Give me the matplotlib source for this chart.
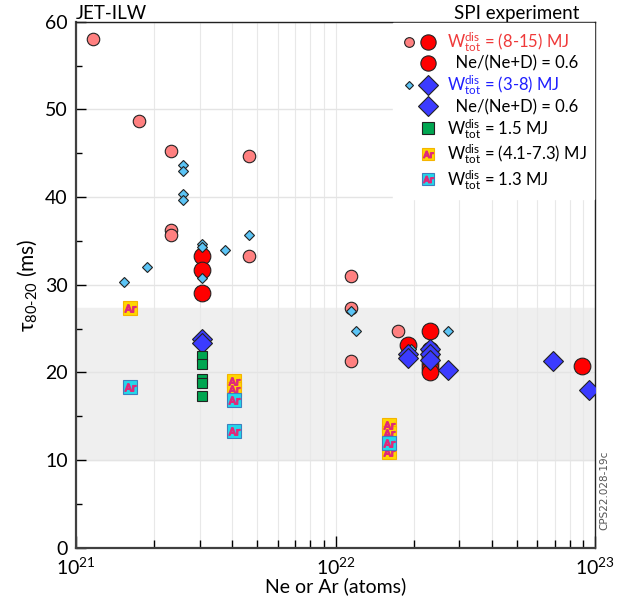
import numpy as np
import matplotlib
matplotlib.use('Agg')
import matplotlib.pyplot as plt
from matplotlib.lines import Line2D
from matplotlib.legend_handler import HandlerTuple
from matplotlib.ticker import MultipleLocator, LogLocator

plt.rcParams['font.family'] = ['Lato', 'DejaVu Sans']
plt.rcParams['mathtext.fontset'] = 'custom'
plt.rcParams['mathtext.rm'] = 'Lato'
plt.rcParams['mathtext.sf'] = 'DejaVu Sans'

# W_tot^dis = (8-15) MJ, small pink circles
pink_x = [1.16e21, 1.74e21, 2.32e21, 4.64e21, 2.32e21, 2.32e21, 4.64e21, 1.15e22, 1.15e22, 1.15e22, 1.74e22]
pink_y = [58.0, 48.7, 45.3, 44.7, 36.3, 35.7, 33.3, 31.0, 27.3, 21.3, 24.7]

# (8-15) MJ, Ne/(Ne+D) = 0.6, big red circles
red_x = [3.05e21, 3.05e21, 3.05e21, 1.91e22, 2.31e22, 2.31e22, 2.31e22, 2.31e22, 2.31e22, 2.31e22, 8.9e22]
red_y = [33.3, 31.7, 29.1, 23.1, 24.7, 22.6, 21.8, 21.0, 20.5, 20.1, 20.7]

# W_tot^dis = (3-8) MJ, small light blue diamonds
lblue_x = [1.53e21, 1.87e21, 2.58e21, 2.58e21, 2.58e21, 2.58e21, 3.05e21, 3.05e21, 3.05e21,
           3.74e21, 4.64e21, 1.15e22, 1.20e22, 1.96e22, 2.72e22]
lblue_y = [30.3, 32.0, 43.7, 43.0, 40.3, 39.7, 34.7, 34.3, 30.8, 34.0, 35.7, 27.0, 24.7, 22.7, 24.7]

# (3-8) MJ, Ne/(Ne+D) = 0.6, big blue diamonds
blue_x = [3.05e21, 3.05e21, 1.91e22, 1.91e22, 2.31e22, 2.31e22, 2.31e22, 2.72e22, 6.9e22, 9.5e22]
blue_y = [23.8, 23.3, 22.1, 21.7, 22.7, 22.1, 21.4, 20.3, 21.3, 18.0]

# W_tot^dis = 1.5 MJ, green squares
green_x = [3.05e21, 3.05e21, 3.05e21, 3.05e21, 3.05e21]
green_y = [21.9, 21.0, 19.2, 18.8, 17.3]

# Ar, (4.1-7.3) MJ
ary_x = [1.62e21, 4.05e21, 4.05e21, 1.61e22, 1.61e22, 1.61e22]
ary_y = [27.3, 19.0, 18.1, 14.0, 13.1, 10.9]

# Ar, 1.3 MJ
arc_x = [1.62e21, 4.05e21, 4.05e21, 1.61e22]
arc_y = [18.3, 16.9, 13.3, 11.9]

PINK, RED = '#ff8080', '#ff0000'
LBLUE, BLUE = '#5bc4f5', '#3b3bff'
GREEN = '#00a651'
YEL, YEL_E = '#ffd700', '#f5b400'
CYAN, CYAN_E = '#22d8ea', '#3f7fbf'
AR_TXT = '#e0287a'
AR = r'$\mathsf{Ar}$'

fig = plt.figure(figsize=(6.29, 6.02), dpi=100)
ax = fig.add_axes([0.121, 0.09, 0.825, 0.874])

ax.axhspan(10, 27.4, color='#efefef', zorder=0)
ax.grid(True, which='both', axis='x', color='#e8e8e8', lw=0.8, zorder=0.5)
ax.grid(True, which='major', axis='y', color='#e4e4e4', lw=1.0, zorder=0.5)
ax.set_axisbelow(True)

ax.plot(pink_x, pink_y, ls='', marker='o', ms=9, mfc=PINK, mec='#222222', mew=0.8, zorder=3)
ax.plot(red_x, red_y, ls='', marker='o', ms=12, mfc=RED, mec='#222222', mew=0.8, zorder=4)
ax.plot(lblue_x, lblue_y, ls='', marker='D', ms=5.5, mfc=LBLUE, mec='#222222', mew=0.8, zorder=5)
ax.plot(blue_x, blue_y, ls='', marker='D', ms=10, mfc=BLUE, mec='#222222', mew=0.8, zorder=6)
ax.plot(green_x, green_y, ls='', marker='s', ms=7, mfc=GREEN, mec='#222222', mew=0.8, zorder=6)
ax.plot(ary_x, ary_y, ls='', marker='s', ms=10, mfc=YEL, mec=YEL_E, mew=0.8, zorder=7)
ax.plot(ary_x, ary_y, ls='', marker=AR, ms=8, color=AR_TXT, zorder=7.1)
ax.plot(arc_x, arc_y, ls='', marker='s', ms=10, mfc=CYAN, mec=CYAN_E, mew=0.8, zorder=8)
ax.plot(arc_x, arc_y, ls='', marker=AR, ms=8, color=AR_TXT, zorder=8.1)

ax.set_xscale('log')
ax.set_xlim(1e21, 1e23)
ax.set_ylim(0, 60)
ax.yaxis.set_major_locator(MultipleLocator(10))
ax.yaxis.set_minor_locator(MultipleLocator(5))
ax.xaxis.set_minor_locator(LogLocator(base=10, subs=np.arange(2, 10)))
ax.tick_params(axis='both', which='major', direction='in', length=7, width=1, labelsize=14, pad=6)
ax.tick_params(axis='both', which='minor', direction='in', length=4, width=1)
ax.tick_params(axis='x', which='major', length=9)
ax.tick_params(axis='x', which='minor', length=6)
for s in ['left', 'bottom']:
    ax.spines[s].set_linewidth(1.6)
    ax.spines[s].set_color('#404040')
for s in ['top', 'right']:
    ax.spines[s].set_linewidth(1.0)
    ax.spines[s].set_color('#202020')

ax.set_xlabel('Ne or Ar (atoms)', fontsize=14, labelpad=0)
ax.set_ylabel(r'$\mathregular{\tau_{80\text{-}20}}$ (ms)', fontsize=15, labelpad=4)
ax.text(0.0, 1.006, 'JET-ILW', transform=ax.transAxes, fontsize=13.5, ha='left', va='baseline')
ax.text(0.97, 1.006, 'SPI experiment', transform=ax.transAxes, fontsize=13.5, ha='right', va='baseline')
fig.text(0.961, 0.186, 'CPS22.028-19c', rotation=90, fontsize=7.5, color='#555555',
         family='DejaVu Sans', ha='center', va='center')

# legend
blank = Line2D([], [], ls='', marker='')
h_pink = Line2D([], [], ls='', marker='o', ms=7, mfc=PINK, mec='#222222', mew=0.8)
h_red = Line2D([], [], ls='', marker='o', ms=11, mfc=RED, mec='#222222', mew=0.8)
h_lblue = Line2D([], [], ls='', marker='D', ms=4.5, mfc=LBLUE, mec='#222222', mew=0.8)
h_blue = Line2D([], [], ls='', marker='D', ms=10, mfc=BLUE, mec='#222222', mew=0.8)
h_green = Line2D([], [], ls='', marker='s', ms=8, mfc=GREEN, mec='#222222', mew=0.8)
h_ysq = Line2D([], [], ls='', marker='s', ms=9, mfc=YEL, mec=YEL_E, mew=0.8)
h_csq = Line2D([], [], ls='', marker='s', ms=9, mfc=CYAN, mec=CYAN_E, mew=0.8)
h_ar = Line2D([], [], ls='', marker=AR, ms=7, color=AR_TXT)

W = r'$\mathregular{W^{dis}_{tot}}$'
handles = [(h_pink, h_red), (blank, h_red), (h_lblue, h_blue), (blank, h_blue),
           (blank, h_green), (blank, (h_ysq, h_ar)), (blank, (h_csq, h_ar))]
labels = [W + ' = (8-15) MJ', '  Ne/(Ne+D) = 0.6', W + ' = (3-8) MJ', '  Ne/(Ne+D) = 0.6',
          W + ' = 1.5 MJ', W + ' = (4.1-7.3) MJ', W + ' = 1.3 MJ']
hmap = {h: HandlerTuple(ndivide=None, pad=0.0) for h in handles}
leg = ax.legend(handles, labels, handler_map=hmap, loc='upper right', fontsize=12,
                frameon=True, fancybox=False, edgecolor='white', facecolor='white', framealpha=1,
                handlelength=2.2, handletextpad=0.6, labelspacing=0.1, borderaxespad=0.05,
                borderpad=0.45)
leg.set_zorder(10)
leg.get_texts()[0].set_color('#ef3a3a')
leg.get_texts()[2].set_color('#2020ff')

fig.savefig('out.png', dpi=100)
